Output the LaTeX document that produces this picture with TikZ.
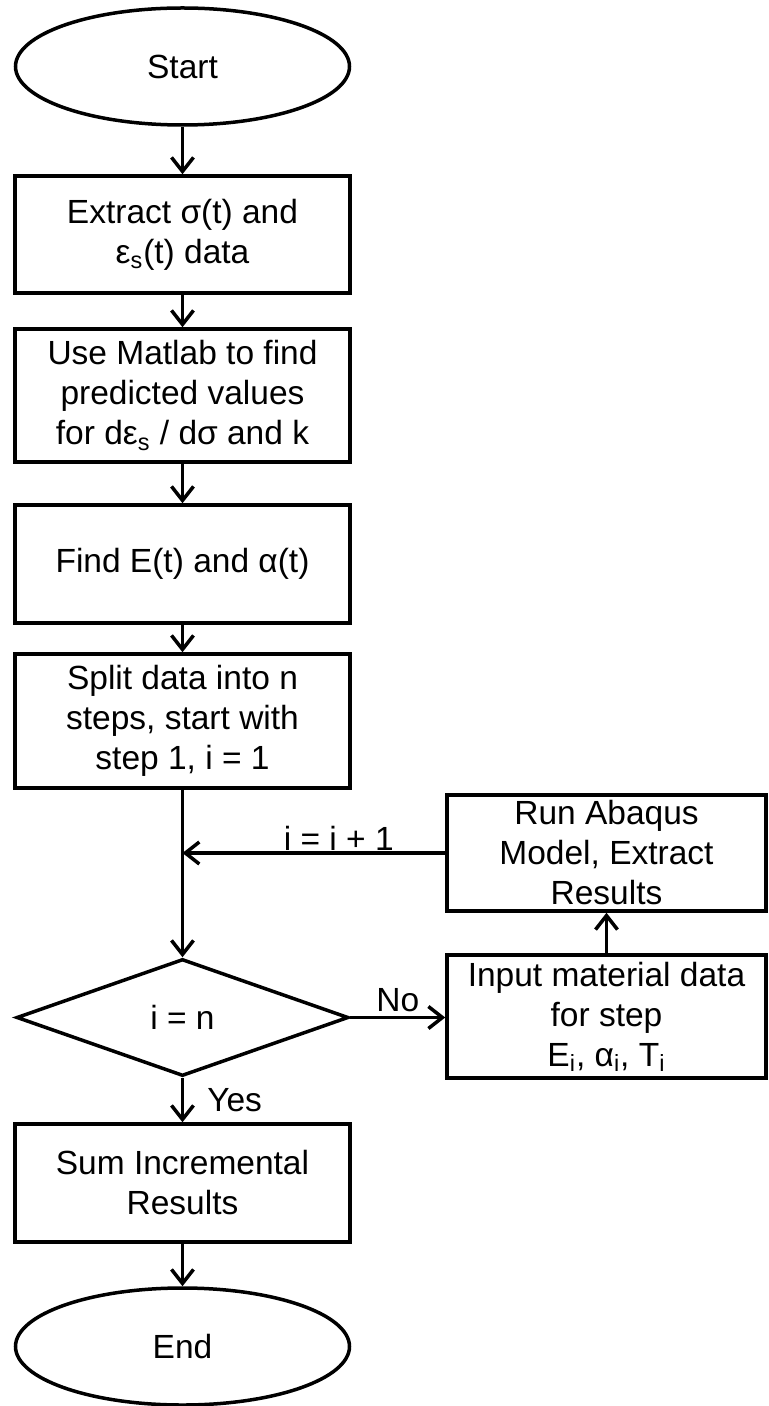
\documentclass[tikz,border=0pt]{standalone}
\usepackage{fontspec}
\setmainfont{Liberation Sans}
\usetikzlibrary{shapes.geometric,arrows.meta}
\begin{document}
\begin{tikzpicture}[x=0.5pt,y=-0.5pt,
  base/.style={draw=black, line width=1.75pt, align=center, inner sep=0pt,
               font=\fontsize{16.75}{20}\selectfont},
  proc/.style={base, rectangle, minimum width=167.5pt},
  term/.style={base, ellipse, minimum width=167pt, minimum height=58.5pt},
  dec/.style={base, diamond, minimum width=166pt, minimum height=58.5pt},
  arr/.style={-{Straight Barb[length=7pt,width=11pt]}, line width=1.75pt},
  lbl/.style={font=\fontsize{16.75}{20}\selectfont, inner sep=1.5pt}]
\useasboundingbox (0,0) rectangle (768,1406);

\node[term] (start) at (182.5,66.5) {Start};
\node[proc, minimum height=58.5pt] (b1) at (182.5,234.5) {Extract σ(t) and\\ε\textsubscript{s}(t) data};
\node[proc, minimum height=66.5pt] (b2) at (182.5,395.5) {Use Matlab to find\\predicted values\\for dε\textsubscript{s} / dσ and k};
\node[proc, minimum height=59pt] (b3) at (182.5,564) {Find E(t) and α(t)};
\node[proc, minimum height=67pt] (b4) at (182.5,721) {Split data into n\\steps, start with\\step 1, i = 1};
\node[dec] (d) at (182.5,1017.5) {i = n};
\node[proc, minimum height=59pt] (sum) at (182.5,1183) {Sum Incremental\\Results};
\node[term] (end) at (182.5,1346.5) {End};
\node[proc, minimum width=159.5pt, minimum height=58pt] (run) at (606.5,853) {Run Abaqus\\Model, Extract\\Results};
\node[proc, minimum width=159.5pt, minimum height=61.5pt] (inp) at (606.5,1016.5) {Input material data\\for step\\E\textsubscript{i}, α\textsubscript{i}, T\textsubscript{i}};

\draw[arr] (start) -- (b1);
\draw[arr] (b1) -- (b2);
\draw[arr] (b2) -- (b3);
\draw[arr] (b3) -- (b4);
\draw[arr] (b4) -- (d);
\draw[arr] (d) -- node[lbl, anchor=west, xshift=10pt] {Yes} (sum);
\draw[arr] (sum) -- (end);
\draw[arr] (d.east) -- node[lbl, above, inner sep=2pt] {No} (d.east -| inp.west);
\draw[arr] (inp) -- (run);
\draw[arr] (run.west) -- node[lbl, pos=0.405, above, inner sep=0.5pt] {i = i + 1} (run.west -| b4.south);
\end{tikzpicture}
\end{document}
